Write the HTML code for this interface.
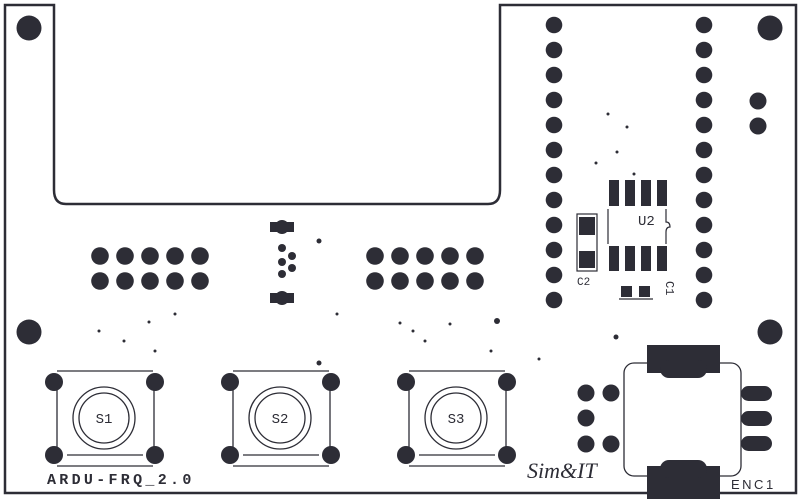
<!DOCTYPE html>
<html><head><style>html,body{margin:0;padding:0;background:#fff}svg{display:block}</style></head><body>
<svg width="800" height="499" viewBox="0 0 800 499" xmlns="http://www.w3.org/2000/svg" font-family="Liberation Mono, monospace">
<g fill="none" stroke="#2d2d36" stroke-width="2">
<path d="M5,493 V5 H54 V190 Q54,204 66,204 H488 Q500,204 500,190 V5 H796 V493 Z" stroke-width="2.5"/>
</g>
<g fill="#2d2d36">
<circle cx="29" cy="28" r="12.5"/><circle cx="770" cy="28" r="12.5"/>
<circle cx="29" cy="332" r="12.5"/><circle cx="770" cy="332" r="12.5"/>
</g>
<g fill="#2d2d36">
<circle cx="554" cy="25" r="8.3"/><circle cx="554" cy="50" r="8.3"/><circle cx="554" cy="75" r="8.3"/><circle cx="554" cy="100" r="8.3"/><circle cx="554" cy="125" r="8.3"/><circle cx="554" cy="150" r="8.3"/><circle cx="554" cy="175" r="8.3"/><circle cx="554" cy="200" r="8.3"/><circle cx="554" cy="225" r="8.3"/><circle cx="554" cy="250" r="8.3"/><circle cx="554" cy="275" r="8.3"/><circle cx="554" cy="300" r="8.3"/>
<circle cx="704" cy="25" r="8.3"/><circle cx="704" cy="50" r="8.3"/><circle cx="704" cy="75" r="8.3"/><circle cx="704" cy="100" r="8.3"/><circle cx="704" cy="125" r="8.3"/><circle cx="704" cy="150" r="8.3"/><circle cx="704" cy="175" r="8.3"/><circle cx="704" cy="200" r="8.3"/><circle cx="704" cy="225" r="8.3"/><circle cx="704" cy="250" r="8.3"/><circle cx="704" cy="275" r="8.3"/><circle cx="704" cy="300" r="8.3"/>
<circle cx="758" cy="101" r="8.5"/><circle cx="758" cy="126" r="8.5"/>
</g>
<g fill="#2d2d36">
<circle cx="100" cy="256" r="8.8"/><circle cx="125" cy="256" r="8.8"/><circle cx="150" cy="256" r="8.8"/><circle cx="175" cy="256" r="8.8"/><circle cx="200" cy="256" r="8.8"/>
<circle cx="100" cy="281" r="8.8"/><circle cx="125" cy="281" r="8.8"/><circle cx="150" cy="281" r="8.8"/><circle cx="175" cy="281" r="8.8"/><circle cx="200" cy="281" r="8.8"/>
<circle cx="375" cy="256" r="8.8"/><circle cx="400" cy="256" r="8.8"/><circle cx="425" cy="256" r="8.8"/><circle cx="450" cy="256" r="8.8"/><circle cx="475" cy="256" r="8.8"/>
<circle cx="375" cy="281" r="8.8"/><circle cx="400" cy="281" r="8.8"/><circle cx="425" cy="281" r="8.8"/><circle cx="450" cy="281" r="8.8"/><circle cx="475" cy="281" r="8.8"/>
</g>
<g fill="#2d2d36">
<rect x="270" y="222" width="24" height="10"/><circle cx="282" cy="227" r="7"/>
<rect x="270" y="293" width="24" height="10"/><circle cx="282" cy="298" r="7"/>
<circle cx="282" cy="248" r="4"/><circle cx="292" cy="256" r="4"/><circle cx="282" cy="262" r="4"/><circle cx="292" cy="268" r="4"/><circle cx="282" cy="274" r="4"/>
</g>
<g fill="#2d2d36">
<circle cx="319" cy="241" r="2.5"/><circle cx="497" cy="321" r="3"/><circle cx="319" cy="363" r="2.5"/><circle cx="616" cy="337" r="2.5"/>
<circle cx="99" cy="331" r="1.5"/><circle cx="149" cy="322" r="1.5"/><circle cx="175" cy="314" r="1.5"/><circle cx="124" cy="341" r="1.5"/><circle cx="155" cy="351" r="1.5"/>
<circle cx="337" cy="314" r="1.5"/><circle cx="400" cy="323" r="1.5"/><circle cx="413" cy="331" r="1.5"/><circle cx="450" cy="324" r="1.5"/><circle cx="425" cy="341" r="1.5"/><circle cx="491" cy="351" r="1.5"/><circle cx="539" cy="359" r="1.5"/>
<circle cx="608" cy="114" r="1.5"/><circle cx="627" cy="127" r="1.5"/><circle cx="617" cy="152" r="1.5"/><circle cx="596" cy="163" r="1.5"/><circle cx="634" cy="174" r="1.5"/>
</g>
<g fill="#2d2d36">
<rect x="609" y="180" width="10" height="26"/><rect x="625" y="180" width="10" height="26"/><rect x="641" y="180" width="10" height="26"/><rect x="657" y="180" width="10" height="26"/>
<rect x="609" y="246" width="10" height="25"/><rect x="625" y="246" width="10" height="25"/><rect x="641" y="246" width="10" height="25"/><rect x="657" y="246" width="10" height="25"/>
<rect x="579" y="217" width="16" height="18"/><rect x="579" y="251" width="16" height="17"/>
<rect x="621" y="286" width="11" height="11"/><rect x="639" y="286" width="11" height="11"/>
</g>
<g fill="none" stroke="#2d2d36" stroke-width="1.2">
<path d="M608,209 V244 M666,209 V222 Q670,222 670,227 Q666,227 666,232 V244"/>
<rect x="577" y="214" width="20" height="57"/>
<line x1="619" y1="299" x2="653" y2="299"/>
</g>
<text x="638" y="225" font-size="14" fill="#2d2d36">U2</text>
<text x="577" y="285" font-size="11" fill="#2d2d36">C2</text>
<text x="666" y="281" font-size="12" fill="#2d2d36" transform="rotate(90 666 281)">C1</text>
<g fill="none" stroke="#2d2d36" stroke-width="1.3">
<line x1="57" y1="371" x2="153" y2="371"/><line x1="57" y1="466" x2="153" y2="466"/>
<line x1="57" y1="385" x2="57" y2="452"/><line x1="154" y1="385" x2="154" y2="452"/>
<line x1="67" y1="455" x2="143" y2="455"/>
<circle cx="104" cy="418" r="31"/><circle cx="104" cy="418" r="25"/>
<line x1="233" y1="371" x2="329" y2="371"/><line x1="233" y1="466" x2="329" y2="466"/>
<line x1="233" y1="385" x2="233" y2="452"/><line x1="330" y1="385" x2="330" y2="452"/>
<line x1="243" y1="455" x2="319" y2="455"/>
<circle cx="280" cy="418" r="31"/><circle cx="280" cy="418" r="25"/>
<line x1="409" y1="371" x2="505" y2="371"/><line x1="409" y1="466" x2="505" y2="466"/>
<line x1="409" y1="385" x2="409" y2="452"/><line x1="506" y1="385" x2="506" y2="452"/>
<line x1="419" y1="455" x2="495" y2="455"/>
<circle cx="456" cy="418" r="31"/><circle cx="456" cy="418" r="25"/>
</g>
<g fill="#2d2d36">
<circle cx="54" cy="382" r="9"/><circle cx="155" cy="382" r="9"/><circle cx="54" cy="455" r="9"/><circle cx="155" cy="455" r="9"/>
<circle cx="230" cy="382" r="9"/><circle cx="331" cy="382" r="9"/><circle cx="230" cy="455" r="9"/><circle cx="331" cy="455" r="9"/>
<circle cx="406" cy="382" r="9"/><circle cx="507" cy="382" r="9"/><circle cx="406" cy="455" r="9"/><circle cx="507" cy="455" r="9"/>
</g>
<g font-size="14" fill="#2d2d36" text-anchor="middle" font-family="Liberation Mono, monospace">
<text x="104" y="423">S1</text><text x="280" y="423">S2</text><text x="456" y="423">S3</text>
</g>
<text x="47" y="484" font-size="15" font-weight="bold" fill="#2d2d36" letter-spacing="3.3">ARDU-FRQ_2.0</text>
<text x="527" y="478" font-size="22" font-style="italic" fill="#2d2d36" font-family="Liberation Serif, serif">Sim&amp;IT</text>
<rect x="624" y="363" width="117" height="113" rx="10" fill="none" stroke="#2d2d36" stroke-width="1.3"/>
<g fill="#2d2d36">
<rect x="647" y="345" width="73" height="28"/><rect x="660" y="360" width="47" height="18" rx="9"/>
<rect x="647" y="466" width="73" height="33"/><rect x="660" y="460" width="47" height="18" rx="9"/>
<circle cx="586" cy="393" r="8.5"/><circle cx="611" cy="393" r="8.5"/><circle cx="586" cy="418" r="8.5"/><circle cx="586" cy="444" r="8.5"/><circle cx="611" cy="444" r="8.5"/>
<rect x="741" y="386" width="31" height="15" rx="7.5"/><rect x="741" y="411" width="31" height="15" rx="7.5"/><rect x="741" y="436" width="31" height="15" rx="7.5"/>
</g>
<text x="731" y="489" font-size="13" fill="#2d2d36" font-family="Liberation Sans, sans-serif" letter-spacing="2.5">ENC1</text>
</svg>
</body></html>
